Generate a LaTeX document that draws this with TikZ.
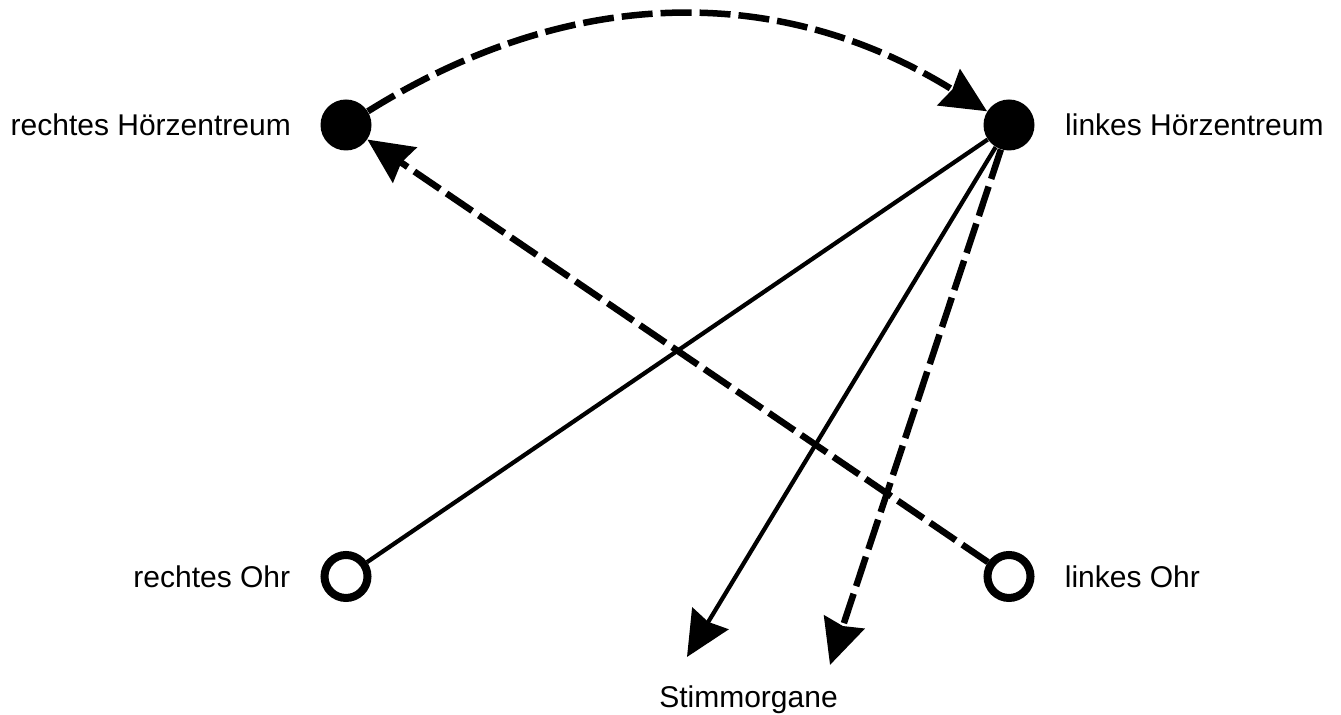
\documentclass[tikz,border=0pt]{standalone}
\usepackage{fontspec}
\setmainfont{Liberation Sans}
\usepackage{tikz}
\usetikzlibrary{arrows.meta, positioning}

\begin{document}
\begin{tikzpicture}[
    centre/.style={circle, fill=black, minimum size=1.02cm, inner sep=0pt},
    ear/.style={circle, draw, line width=0.16cm, fill=white, minimum size=0.86cm, inner sep=0pt},
    caption/.style={inner sep=0pt, font=\fontsize{17.07}{20}\selectfont},
    pathway/.style={line width=0.085cm},
    dashpath/.style={line width=0.13cm, dash pattern=on 0.62cm off 0.16cm},
    arrowhead/.style={-{Stealth[length=0.9cm, width=0.84cm, inset=0.08cm]}}
]
\useasboundingbox (0,0) rectangle (26.82,14.3);

% Centres and ears
\node[centre] (rhz) at (6.92, 11.8) {};
\node[centre] (lhz) at (20.18, 11.8) {};
\node[ear] (ro) at (6.92, 2.77) {};
\node[ear] (lo) at (20.18, 2.77) {};

\node[caption, left=0.58cm of rhz] (rhztext) {rechtes Hörzentreum};
\node[caption, right=0.6cm of lhz] (lhztext) {linkes Hörzentreum};
\node[caption, left=0.6cm of ro] (rotext) {rechtes Ohr};
\node[caption, right=0.6cm of lo] (lotext) {linkes Ohr};
\node[caption, anchor=base] (stimm) at (14.97, 0.14) {Stimmorgane};

\coordinate (s1) at (13.74, 1.16);
\coordinate (s2) at (16.6, 1.0);

% Connections
\draw[pathway] (ro) -- (lhz);
\draw[dashpath, arrowhead] (lo) -- (rhz);
\draw[dashpath, arrowhead] (rhz) to[bend left=32] (lhz);
\draw[pathway, arrowhead] (lhz) -- (s1);
\draw[dashpath, arrowhead] (lhz) -- (s2);

\end{tikzpicture}
\end{document}
